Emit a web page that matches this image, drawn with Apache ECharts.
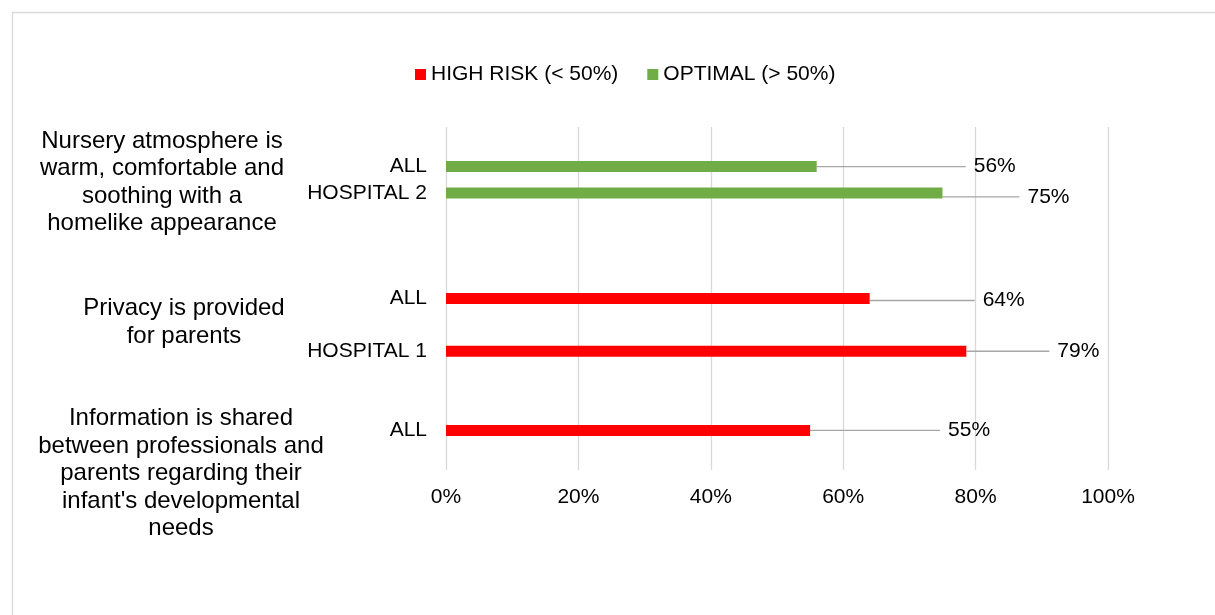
<!DOCTYPE html>
<html><head><meta charset="utf-8">
<script src="https://cdn.jsdelivr.net/npm/echarts@6/dist/echarts.min.js"></script>
<style>html,body{margin:0;padding:0;background:#fff}#c{width:1215px;height:615px}</style>
</head><body><div id="c"></div>
<script>
// ---- data ----
const slotLabels = ['', 'ALL', 'HOSPITAL 2', '', '', '', 'ALL', '', 'HOSPITAL 1', '', '', 'ALL', ''];
const highRisk = [null, null, null, null, null, null, 64, null, 78.6, null, null, 55, null];
const optimal  = [null, 56, 75, null, null, null, null, null, null, null, null, null, null];
const seriesNames = ['HIGH RISK (< 50%)', 'OPTIMAL (> 50%)'];
const groupLabels = [
  'Nursery atmosphere is\nwarm, comfortable and\nsoothing with a\nhomelike appearance',
  'Privacy is provided\nfor parents',
  "Information is shared\nbetween professionals and\nparents regarding their\ninfant's developmental\nneeds"
];

// ---- style / layout ----
const FONT = "'Liberation Sans', Arial, sans-serif";
const GROUP_ANCHOR = [1.6, 6.9, 12.64];      // in slot units
const GROUP_X = [162, 184, 181];
const LABEL_SHIFT = {1: [144, 0], 2: [72, 4], 6: [100, 2], 8: [78, 0], 11: [125, 0]};

const chart = echarts.init(document.getElementById('c'), null, {renderer: 'canvas'});

function labelCfg() {
  return {
    show: true, position: 'right', distance: 5,
    color: '#000', fontFamily: FONT, fontSize: 21,
    formatter: p => '{g|}' + Math.round(p.value) + '%',
    rich: {g: {width: 8}}
  };
}
const layoutFn = p => {
  const s = LABEL_SHIFT[p.dataIndex] || [0, 0];
  return {dx: s[0], dy: s[1]};
};

chart.setOption({
  animation: false,
  backgroundColor: '#fff',
  legend: {
    top: 64, left: 415, padding: 0,
    itemWidth: 11, itemHeight: 11, itemGap: 29,
    icon: 'rect',
    textStyle: {fontFamily: FONT, fontSize: 21, color: '#000'},
    data: seriesNames
  },
  grid: {left: 446, right: 107, top: 127, bottom: 145},
  xAxis: {
    type: 'value', min: 0, max: 100, interval: 20,
    axisLine: {show: false}, axisTick: {show: false},
    splitLine: {show: true, lineStyle: {color: '#d9d9d9', width: 1.3}},
    axisLabel: {formatter: '{value}%', fontFamily: FONT, fontSize: 21, color: '#000', margin: 17}
  },
  yAxis: {
    type: 'category', inverse: true, data: slotLabels,
    axisLine: {show: false}, axisTick: {show: false},
    axisLabel: {interval: 0, fontFamily: FONT, fontSize: 21, color: '#000', margin: 19}
  },
  series: [
    {
      name: seriesNames[0], type: 'bar', stack: 'all', data: highRisk,
      barWidth: 11, itemStyle: {color: '#ff0000'},
      label: labelCfg(),
      labelLine: {show: true, lineStyle: {color: '#a6a6a6', width: 1.3}},
      labelLayout: layoutFn
    },
    {
      name: seriesNames[1], type: 'bar', stack: 'all', data: optimal,
      barWidth: 11, itemStyle: {color: '#70ad47'},
      label: labelCfg(),
      labelLine: {show: true, lineStyle: {color: '#a6a6a6', width: 1.3}},
      labelLayout: layoutFn
    }
  ]
});

// group labels anchored to the category axis
const y0 = chart.convertToPixel({yAxisIndex: 0}, 0);
const step = chart.convertToPixel({yAxisIndex: 0}, 1) - y0;
chart.setOption({
  graphic: [
    {type: 'rect', silent: true, shape: {x: 12.5, y: 12.5, width: 1400, height: 800},
     style: {fill: 'none', stroke: '#d9d9d9', lineWidth: 1.3}, z: -1}
  ].concat(groupLabels.map((t, i) => ({
    type: 'text', silent: true,
    x: GROUP_X[i], y: y0 + GROUP_ANCHOR[i] * step,
    style: {text: t, fontFamily: FONT, fontSize: 24, lineHeight: 27.5,
            fill: '#000', align: 'center', verticalAlign: 'middle'}
  })))
});
</script>
</body></html>
